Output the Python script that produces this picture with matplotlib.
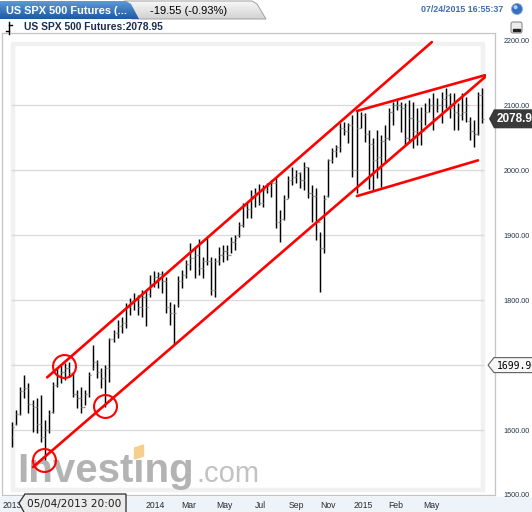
import numpy as np
import matplotlib.pyplot as plt
import matplotlib.ticker as mticker
from matplotlib.patches import Polygon, Circle, FancyBboxPatch, Rectangle
from matplotlib.colors import LinearSegmentedColormap

# weekly bars, US SPX 500 futures, spring 2013 - July 2015
highs = [1612, 1631, 1666, 1685, 1672, 1646, 1649, 1654, 1615, 1631,
         1674, 1695, 1700, 1703, 1705, 1689, 1661, 1666, 1661, 1689,
         1731, 1708, 1695, 1700, 1741, 1754, 1769, 1774, 1795, 1803,
         1811, 1808, 1815, 1815, 1838, 1845, 1843, 1845, 1835, 1797,
         1794, 1837, 1846, 1862, 1888, 1882, 1894, 1866, 1895, 1866,
         1865, 1882, 1885, 1885, 1897, 1900, 1920, 1949, 1951, 1969,
         1972, 1978, 1977, 1980, 1985, 1988, 1938, 1962, 1991, 2005,
         2000, 1997, 2012, 2005, 1977, 1972, 1905, 1962, 2017, 2034,
         2038, 2072, 2074, 2072, 2085, 2092, 2089, 2088, 2062, 2049,
         2062, 2054, 2069, 2095, 2105, 2108, 2105, 2103, 2108, 2105,
         2095, 2097, 2103, 2111, 2118, 2111, 2120, 2126, 2118, 2118,
         2103, 2118, 2112, 2082, 2077, 2120, 2126]
lows = [1574, 1608, 1623, 1649, 1626, 1597, 1595, 1582, 1554, 1595,
        1626, 1666, 1672, 1677, 1682, 1651, 1634, 1626, 1638, 1651,
        1692, 1680, 1665, 1635, 1674, 1735, 1741, 1749, 1757, 1777,
        1785, 1777, 1774, 1760, 1805, 1820, 1818, 1811, 1780, 1762,
        1732, 1789, 1818, 1834, 1846, 1834, 1838, 1834, 1854, 1808,
        1805, 1854, 1858, 1862, 1872, 1877, 1897, 1912, 1926, 1926,
        1943, 1946, 1943, 1965, 1958, 1911, 1889, 1923, 1957, 1977,
        1980, 1972, 1969, 1957, 1920, 1892, 1812, 1872, 1958, 2011,
        2020, 2028, 2054, 2041, 1989, 1965, 2065, 2043, 1971, 1969,
        1988, 1974, 2011, 2046, 2069, 2092, 2058, 2038, 2041, 2034,
        2038, 2038, 2069, 2089, 2062, 2089, 2072, 2095, 2080, 2062,
        2062, 2077, 2074, 2046, 2035, 2054, 2072]
opens = [1590, 1610, 1625, 1660, 1665, 1640, 1635, 1610, 1590, 1600,
         1628, 1670, 1685, 1690, 1695, 1688, 1655, 1650, 1635, 1655,
         1695, 1705, 1690, 1680, 1695, 1740, 1750, 1760, 1765, 1790,
         1797, 1800, 1790, 1805, 1810, 1825, 1835, 1840, 1830, 1790,
         1780, 1792, 1830, 1838, 1855, 1865, 1870, 1850, 1860, 1860,
         1815, 1860, 1870, 1875, 1870, 1890, 1900, 1915, 1945, 1940,
         1960, 1965, 1950, 1970, 1975, 1980, 1920, 1925, 1955, 1985,
         1990, 1995, 1985, 2005, 1965, 1960, 1920, 1880, 1960, 2015,
         2030, 2035, 2065, 2060, 2070, 2000, 2065, 2085, 2055, 2040,
         2015, 2020, 2045, 2050, 2090, 2100, 2100, 2095, 2050, 2080,
         2060, 2075, 2060, 2090, 2100, 2092, 2100, 2110, 2115, 2095,
         2090, 2085, 2090, 2075, 2060, 2055, 2115]
closes = [1605, 1625, 1660, 1665, 1640, 1635, 1610, 1590, 1600, 1625,
          1670, 1685, 1690, 1695, 1688, 1655, 1650, 1635, 1655, 1685,
          1705, 1690, 1680, 1695, 1740, 1750, 1760, 1765, 1790, 1797,
          1800, 1790, 1805, 1790, 1825, 1835, 1840, 1830, 1790, 1780,
          1780, 1830, 1838, 1855, 1865, 1870, 1850, 1860, 1860, 1815,
          1860, 1870, 1875, 1870, 1890, 1895, 1915, 1945, 1940, 1960,
          1965, 1950, 1970, 1975, 1980, 1920, 1925, 1955, 1985, 1990,
          1995, 1985, 2005, 1965, 1960, 1920, 1880, 1955, 2015, 2030,
          2035, 2065, 2060, 2070, 2000, 2065, 2085, 2055, 2040, 2015,
          2020, 2045, 2050, 2090, 2100, 2100, 2095, 2050, 2080, 2060,
          2075, 2060, 2090, 2100, 2080, 2100, 2110, 2115, 2095, 2090,
          2085, 2090, 2100, 2060, 2055, 2115, 2079]

month_pos = [0, 26, 35.2, 43.6, 52.3, 61.2, 70.1, 78.0, 86.6, 94.7, 103.4]
month_labels = ['2013', 'Nov', '2014', 'Mar', 'May', 'Jul', 'Sep', 'Nov',
                '2015', 'Feb', 'May']
price_ticks = [1500, 1600, 1700, 1800, 1900, 2000, 2100, 2200]

# hand drawn trend lines: (week index, price)
channel_low = ([5.1, 116.7], [1543, 2143])
channel_high = ([8.6, 103.6], [1681, 2197])
wedge_top = ([85.1, 116.7], [2091, 2146])
wedge_bottom = ([85.1, 115.0], [1960, 2015])
circle_wk = [7.8, 12.8, 22.9]
circle_px = [1554, 1699, 1637]

last_price = 2078.95
cross_price = 1699.9

W, H = 532, 512
fig = plt.figure(figsize=(W / 100, H / 100), dpi=100)
fig.patch.set_facecolor('white')
fig.add_artist(Rectangle((0, 0), 1, 15 / H, transform=fig.transFigure,
                         color='#eef3f9', zorder=-1))

ax = fig.add_axes([2 / W, 1 - 495 / H, 493 / W, 462 / H])
ov = fig.add_axes([0, 0, 1, 1], zorder=5)

# overlay in pixel coords
def setup_ov():
    ov.set_xlim(0, W)
    ov.set_ylim(H, 0)
    ov.axis('off')

setup_ov()

wk = np.arange(len(highs))
ax.vlines(wk, lows, highs, color='black', lw=1.05, zorder=3)
ax.hlines(opens, wk - 0.42, wk, color='#8a8a8a', lw=0.9, zorder=3)
ax.hlines(closes, wk, wk + 0.42, color='#8a8a8a', lw=0.9, zorder=3)
ax.set_xlim(-2.54, 119.2)
ax.set_ylim(1500, 2211)

for p in price_ticks[1:-1]:
    ax.axhline(p, 0.02, 0.976, color='#d9d9d9', lw=0.9, zorder=1)

# faint inner frame of the plot area
ax.add_patch(Rectangle((12.5, 43.5), 470, 446, transform=ov.transData,
                       fill=False, ec='#f1f1f1', lw=3.2, zorder=0.3))

for s in ax.spines.values():
    s.set_color('#c4c4c4')
    s.set_linewidth(0.9)

ax.yaxis.tick_right()
ax.set_yticks(price_ticks)
ax.yaxis.set_major_formatter(mticker.FormatStrFormatter('%.2f'))
ax.tick_params(axis='y', length=0, pad=6, labelsize=5.2, labelcolor='#243447')
ax.set_xticks(month_pos)
ax.set_xticklabels(month_labels)
ax.tick_params(axis='x', length=0, pad=4, labelsize=6.2, labelcolor='#2a2a2a')
for lab in ax.get_yticklabels() + ax.get_xticklabels():
    lab.set_family('Liberation Sans')

# trend lines + circles
red = '#ff0000'
for xs, ys in [channel_low, channel_high, wedge_top, wedge_bottom]:
    ax.plot(xs, ys, color=red, lw=1.9, zorder=4, solid_capstyle='round')
ax.plot(circle_wk, circle_px, 'o', ms=16.5, mfc='none', mec=red, mew=1.5, zorder=4)

# watermark
ax.text(17, 482, 'Investing', transform=ov.transData, fontsize=29,
        fontweight='bold', color='#b3b3b3', family='Liberation Sans',
        va='baseline', zorder=0.5)
ax.text(196, 482, '.com', transform=ov.transData, fontsize=21,
        color='#c2c2c2', family='Liberation Sans', va='baseline', zorder=0.5)
ax.add_patch(Polygon([[134.5, 448], [143.5, 445], [143.5, 456], [134.5, 459]],
                     transform=ov.transData, color='#f6cf8e', zorder=0.6))

# header tabs
grey_tab = Polygon([[124, 1], [252, 1], [257, 4], [266, 19], [132, 19]],
                   facecolor='none', edgecolor='#a0a0a0', lw=0.7, zorder=1)
ov.add_patch(grey_tab)
grad = np.linspace(0, 1, 50).reshape(-1, 1)
gimg = ov.imshow(grad, cmap=LinearSegmentedColormap.from_list('g', ['#f7f7f7', '#d2d2d2']),
                 extent=[120, 270, 19, 1], aspect='auto', zorder=0.9)
gimg.set_clip_path(grey_tab)
blue_tab = Polygon([[0, 1], [126, 1], [131, 4], [139, 19], [0, 19]],
                   facecolor='none', edgecolor='none', zorder=2)
ov.add_patch(blue_tab)
bimg = ov.imshow(grad, cmap=LinearSegmentedColormap.from_list('b', ['#5d9ad6', '#1d5aa3']),
                 extent=[0, 140, 19, 1], aspect='auto', zorder=2)
bimg.set_clip_path(blue_tab)
setup_ov()

ov.text(6, 11, 'US SPX 500 Futures (...', color='white', fontsize=7.9,
        fontweight='bold', family='Liberation Sans', va='center', zorder=3)
ov.text(150, 11, '-19.55 (-0.93%)', color='black', fontsize=8,
        family='Liberation Sans', va='center', zorder=3)
ov.text(503, 10, '07/24/2015 16:55:37', color='#3b6fb0', fontsize=6.4,
        fontweight='bold', family='Liberation Sans', va='center', ha='right')
ov.add_patch(Circle((517, 9), 5.5, fc='#3670c0', ec='#8fa8c8', lw=0.6))
ov.add_patch(Circle((515.6, 7.2), 2, fc='#b0d0f5', ec='none'))

# second row
ov.plot([9, 9], [22, 34], color='black', lw=1)
ov.plot([6, 9], [31, 31], color='black', lw=1)
ov.plot([9, 12], [25, 25], color='black', lw=1)
ov.text(24, 27.5, 'US SPX 500 Futures:2078.95', color='#1c2c4a', fontsize=7.4,
        fontweight='bold', family='Liberation Sans', va='center')
ov.add_patch(FancyBboxPatch((511, 22), 11, 11, boxstyle='round,pad=0,rounding_size=2',
                            fc='#ededed', ec='#8c8c8c', lw=0.8))
ov.add_patch(Rectangle((513, 28.5), 7, 2.2, color='#222222'))


def price_to_px(p):
    d = ax.transData.transform((0, p))
    return ov.transData.inverted().transform(d)[1]


yp = price_to_px(last_price)
ov.add_patch(Polygon([[489, yp], [494, yp - 9.5], [533, yp - 9.5], [533, yp + 9.5],
                      [494, yp + 9.5]], facecolor='#3a3a3a', edgecolor='none'))
ov.text(497, yp + 0.5, f'{last_price:.2f}', color='white', fontsize=8.5,
        fontweight='bold', family='Liberation Sans', va='center')

yc = price_to_px(cross_price)
ov.add_patch(Polygon([[488, yc], [494, yc - 7.5], [533, yc - 7.5], [533, yc + 7.5],
                      [494, yc + 7.5]], facecolor='#f7f7f7', edgecolor='#606060', lw=0.8))
ov.text(497, yc + 0.5, f'{cross_price:.2f}', color='black', fontsize=7,
        family='DejaVu Sans Mono', va='center')

# date tooltip
ov.add_patch(Polygon([[19, 503], [25, 494], [126, 494], [126, 514], [25, 514]],
                     facecolor='#ebebeb', edgecolor='#2a2a2a', lw=0.9))
ov.text(27, 503.5, '05/04/2013 20:00', color='#1a1a1a', fontsize=7.6,
        family='DejaVu Sans', va='center')

fig.savefig('out.png', dpi=100)
